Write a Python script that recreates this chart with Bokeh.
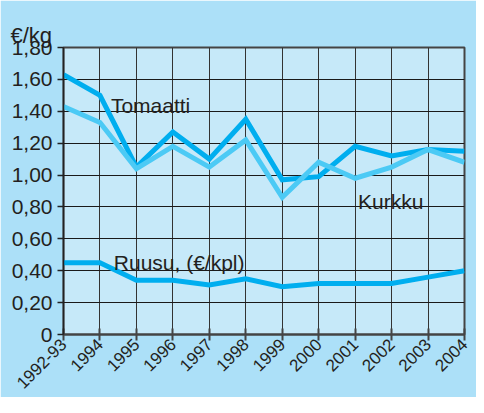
import math
from bokeh.plotting import figure
from bokeh.models import Range1d, FixedTicker
from bokeh.core.properties import value
from bokeh.embed import file_html
from bokeh.resources import INLINE

YEARS = ["1992-93", "1994", "1995", "1996", "1997", "1998", "1999",
         "2000", "2001", "2002", "2003", "2004"]
TOMAATTI = [1.63, 1.50, 1.05, 1.27, 1.10, 1.35, 0.97, 0.99, 1.18, 1.12, 1.16, 1.15]
KURKKU = [1.43, 1.33, 1.04, 1.18, 1.05, 1.22, 0.86, 1.08, 0.98, 1.05, 1.16, 1.08]
RUUSU = [0.45, 0.45, 0.34, 0.34, 0.31, 0.35, 0.30, 0.32, 0.32, 0.32, 0.36, 0.40]
Y_TICKS = [0, 0.2, 0.4, 0.6, 0.8, 1.0, 1.2, 1.4, 1.6, 1.8]
Y_TICK_LABELS = ["0", "0,20", "0,40", "0,60", "0,80", "1,00", "1,20", "1,40", "1,60", "1,80"]
UNIT = "€/kg"

FONT = "Liberation Sans"
TXT = "#231f20"
DARK = "#00aeef"
LIGHT = "#4ccaf5"

xs = list(range(len(YEARS)))

p = figure(width=476, height=397, output_backend="svg", toolbar_location=None,
           x_range=Range1d(0, len(YEARS) - 1), y_range=Range1d(Y_TICKS[0], Y_TICKS[-1]),
           min_border_left=63, min_border_right=12, min_border_top=47, min_border_bottom=40,
           border_fill_color="#ace0f8", background_fill_color="#c6e9f9")

p.title.text = UNIT
p.title.align = "left"
p.title.offset = -53
p.title.text_font = FONT
p.title.text_font_size = "22px"
p.title.text_font_style = "normal"
p.title.text_color = TXT
p.title.standoff = 0

p.outline_line_color = "#444444"
p.outline_line_width = 2

p.xaxis.ticker = FixedTicker(ticks=xs)
p.xaxis.major_label_overrides = {i: y for i, y in enumerate(YEARS)}
p.xaxis.major_label_orientation = math.pi / 4
p.xaxis.major_label_text_font = FONT
p.xaxis.major_label_text_font_size = "17px"
p.xaxis.major_label_text_color = TXT
p.xaxis.major_label_standoff = 1
p.xaxis.major_tick_in = 6
p.xaxis.major_tick_out = 6
p.xaxis.major_tick_line_width = 2
p.xaxis.major_tick_line_color = "#444444"
p.xaxis.axis_line_width = 2
p.xaxis.axis_line_color = "#444444"
p.xaxis.minor_tick_line_color = None

p.yaxis.ticker = FixedTicker(ticks=Y_TICKS)
p.yaxis.major_label_overrides = {t: l for t, l in zip(Y_TICKS, Y_TICK_LABELS)}
p.yaxis.major_label_text_font = FONT
p.yaxis.major_label_text_font_size = "21px"
p.yaxis.major_label_text_color = TXT
p.yaxis.major_label_standoff = 5
p.yaxis.major_tick_in = 0
p.yaxis.major_tick_out = 6
p.yaxis.major_tick_line_width = 1.5
p.yaxis.major_tick_line_color = "#222222"
p.yaxis.axis_line_width = 1.5
p.yaxis.axis_line_color = "#222222"
p.yaxis.minor_tick_line_color = None

p.xgrid.grid_line_color = "#333333"
p.xgrid.grid_line_width = 1
p.ygrid.grid_line_color = "#1a1a1a"
p.ygrid.grid_line_width = 1

p.line(xs, TOMAATTI, line_width=5, color=DARK, line_join="miter")
p.line(xs, KURKKU, line_width=5, color=LIGHT, line_join="miter")
p.line(xs, RUUSU, line_width=5, color=DARK, line_join="miter")

p.text(x=[1.3], y=[1.435], text=["Tomaatti"], text_font=value(FONT),
       text_font_size="21px", text_color=TXT, text_baseline="alphabetic")
p.text(x=[8.08], y=[0.837], text=["Kurkku"], text_font=value(FONT),
       text_font_size="21px", text_color=TXT, text_baseline="alphabetic")
p.text(x=[1.38], y=[0.45], text=["Ruusu, (€/kpl)"], text_font=value(FONT),
       text_font_size="21px", text_color=TXT, text_baseline="alphabetic")

open("out.html", "w").write(file_html(p, INLINE))
